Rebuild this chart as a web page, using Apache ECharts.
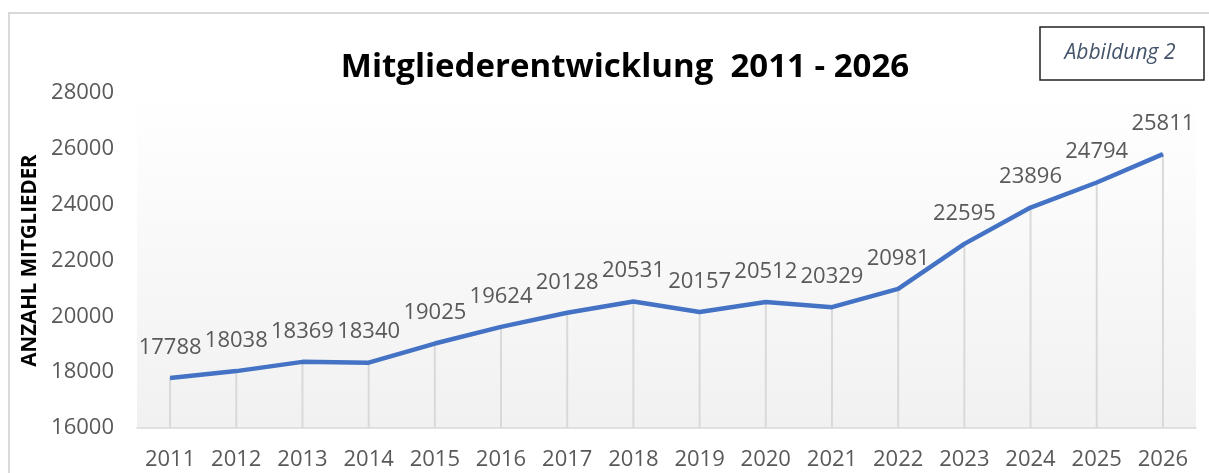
<!DOCTYPE html>
<html>
<head>
<meta charset="utf-8">
<script src="https://cdn.jsdelivr.net/npm/echarts@6/dist/echarts.min.js"></script>
<style>
html,body{margin:0;padding:0;background:#fff;}
#c{width:1209px;height:473px;}
</style>
</head>
<body>
<div id="c"></div>
<script>
const years = ['2011','2012','2013','2014','2015','2016','2017','2018','2019','2020','2021','2022','2023','2024','2025','2026'];
const members = [17788,18038,18369,18340,19025,19624,20128,20531,20157,20512,20329,20981,22595,23896,24794,25811];
const yTicks = [16000, 28000, 2000]; // min, max, interval

const FONT = 'Open Sans';
const chart = echarts.init(document.getElementById('c'));
chart.setOption({
  animation: false,
  backgroundColor: '#ffffff',
  title: {
    text: 'Mitgliederentwicklung  2011 - 2026',
    left: 620, top: 46, textAlign: 'center',
    textStyle: {fontFamily: FONT, fontWeight: 'bold', fontSize: 33, color: '#000'}
  },
  graphic: [
    {type: 'rect', shape: {x: 9, y: 13, width: 1220, height: 480}, style: {fill: 'none', stroke: '#d9d9d9', lineWidth: 2}, silent: true, z: 0},
    {type: 'rect', shape: {x: 1040, y: 27, width: 164, height: 53}, style: {fill: '#fff', stroke: '#222', lineWidth: 1.5}, z: 10},
    {type: 'text', x: 1120, y: 53, style: {text: 'Abbildung 2', fontFamily: FONT, fontStyle: 'italic', fontSize: 21, fill: '#44546A', align: 'center', verticalAlign: 'middle'}, z: 11}
  ],
  grid: {
    left: 137, right: 13, top: 93, bottom: 45,
    show: true, borderWidth: 0,
    backgroundColor: new echarts.graphic.LinearGradient(0, 0, 0, 1, [
      {offset: 0, color: '#ffffff'},
      {offset: 0.15, color: '#fdfdfd'},
      {offset: 1, color: '#f1f1f1'}
    ])
  },
  xAxis: {
    type: 'category', data: years, boundaryGap: true,
    axisLine: {lineStyle: {color: '#d9d9d9', width: 1.5}},
    axisTick: {show: false},
    axisLabel: {fontFamily: FONT, fontSize: 22, color: '#595959', margin: 21}
  },
  yAxis: {
    type: 'value', min: yTicks[0], max: yTicks[1], interval: yTicks[2],
    name: 'ANZAHL MITGLIEDER', nameLocation: 'middle', nameGap: 95, nameRotate: 90,
    nameTextStyle: {fontFamily: FONT, fontWeight: 'bold', fontSize: 20.5, color: '#000'},
    axisLine: {show: false}, axisTick: {show: false},
    splitLine: {show: false},
    axisLabel: {fontFamily: FONT, fontSize: 22, color: '#595959', margin: 23, formatter: v => String(v)}
  },
  series: [
    {
      type: 'bar', data: members, barWidth: 2, silent: true,
      itemStyle: {color: '#d9d9d9'}, z: 1
    },
    {
      type: 'line', data: members, symbol: 'circle', symbolSize: 1, showSymbol: true,
      itemStyle: {color: '#4472C4'},
      lineStyle: {color: '#4472C4', width: 4.5},
      label: {show: true, position: 'top', distance: 19, fontFamily: FONT, fontSize: 22, color: '#595959'},
      labelLayout: {hideOverlap: false},
      z: 3
    }
  ]
});
</script>
</body>
</html>
